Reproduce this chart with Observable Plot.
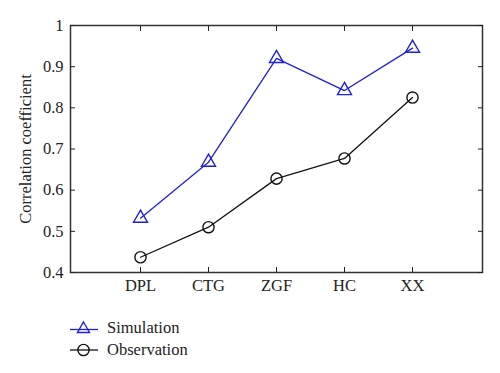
<!DOCTYPE html>
<html><head><meta charset="utf-8">
<script src="https://cdn.jsdelivr.net/npm/d3@7"></script>
<script src="https://cdn.jsdelivr.net/npm/@observablehq/plot@0.6"></script>
<style>
body{margin:0;background:#fff;font-family:'Liberation Serif','Times New Roman',Times,'DejaVu Serif',serif;}
svg text{font-family:'Liberation Serif','Times New Roman',Times,'DejaVu Serif',serif;}
#legend{position:relative;height:73px;}
.item{position:absolute;left:70px;display:flex;align-items:center;font-size:16.5px;color:#222;}
.item span{margin-left:9px;}
</style>
</head><body>
<div id="chart"></div>
<div id="legend"></div>
<script>
const categories = ["DPL","CTG","ZGF","HC","XX"];
const simulation = [0.532,0.668,0.920,0.842,0.945];
const observation = [0.437,0.510,0.628,0.677,0.825];
const yTicks = [0.4,0.5,0.6,0.7,0.8,0.9,1];
const seriesNames = ["Simulation","Observation"];
const yLabel = "Correlation coefficient";
const colors = {Simulation:"#1f1fd6", Observation:"#111"};
const FONT = "'Liberation Serif','Times New Roman',Times,'DejaVu Serif',serif";

const data = [];
categories.forEach((c,i)=>{
  data.push({cat:c, v:simulation[i], s:"Simulation"});
  data.push({cat:c, v:observation[i], s:"Observation"});
});

const plot = Plot.plot({
  width:500, height:300,
  marginLeft:70, marginRight:18, marginTop:25, marginBottom:28,
  style:{fontFamily:FONT, fontSize:"16px", color:"#222", background:"#fff"},
  x:{type:"point", domain:categories, padding:1},
  y:{domain:[0.4,1]},
  marks:[
    Plot.frame({stroke:"#333", strokeWidth:1.5}),
    Plot.axisX({anchor:"bottom", tickSize:-5, tickPadding:12, label:null, fontSize:16.5}),
    Plot.axisX({anchor:"top", tickSize:-5, tickFormat:()=>"", label:null}),
    Plot.axisY({anchor:"left", ticks:yTicks, tickSize:-5, tickPadding:12, tickFormat:d=>String(d), label:null, fontSize:16.5}),
    Plot.axisY({anchor:"right", ticks:yTicks, tickSize:-5, tickFormat:()=>"", label:null}),
    Plot.text([yLabel], {text:d=>d, frameAnchor:"left", textAnchor:"middle", rotate:-90, dx:-45, fontSize:16.5, fill:"#222"}),
    Plot.line(data.filter(d=>d.s==="Simulation"), {x:"cat", y:"v", stroke:colors.Simulation, strokeWidth:1.3}),
    Plot.line(data.filter(d=>d.s==="Observation"), {x:"cat", y:"v", stroke:colors.Observation, strokeWidth:1.3}),
    Plot.dot(data.filter(d=>d.s==="Simulation"), {x:"cat", y:"v", symbol:"triangle", r:5.2, stroke:colors.Simulation, strokeWidth:1.4, fill:"none"}),
    Plot.dot(data.filter(d=>d.s==="Observation"), {x:"cat", y:"v", symbol:"circle", r:5.6, stroke:colors.Observation, strokeWidth:1.4, fill:"none"})
  ]
});
document.getElementById("chart").appendChild(plot);

const leg = document.getElementById("legend");
seriesNames.forEach((name,i)=>{
  const div = document.createElement("div");
  div.className="item";
  div.style.top = (18 + i*22) + "px";
  const col = colors[name];
  const marker = name==="Simulation"
    ? `<path d="M13.5,4 L19.5,14.5 L7.5,14.5 Z" fill="none" stroke="${col}" stroke-width="1.4"/>`
    : `<circle cx="13.5" cy="10" r="5.6" fill="none" stroke="${col}" stroke-width="1.4"/>`;
  div.innerHTML = `<svg width="28" height="20"><line x1="0" x2="28" y1="${name==="Simulation"?11.5:10}" y2="${name==="Simulation"?11.5:10}" stroke="${col}" stroke-width="1.3"/>${marker}</svg><span>${name}</span>`;
  leg.appendChild(div);
});
</script>
</body></html>
